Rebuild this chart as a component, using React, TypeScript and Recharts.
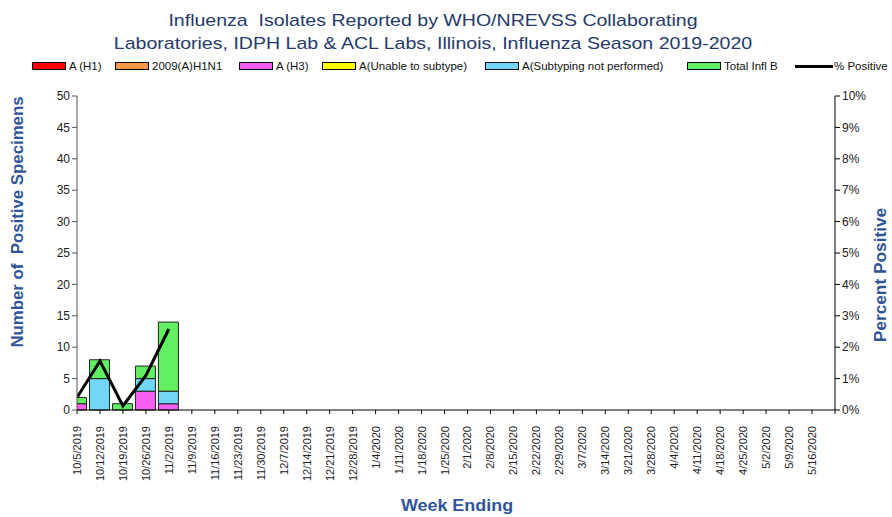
import { ComposedChart, Bar, Line, XAxis, YAxis } from 'recharts';

const weeks = [
  '10/5/2019', '10/12/2019', '10/19/2019', '10/26/2019', '11/2/2019', '11/9/2019', '11/16/2019',
  '11/23/2019', '11/30/2019', '12/7/2019', '12/14/2019', '12/21/2019', '12/28/2019', '1/4/2020',
  '1/11/2020', '1/18/2020', '1/25/2020', '2/1/2020', '2/8/2020', '2/15/2020', '2/22/2020',
  '2/29/2020', '3/7/2020', '3/14/2020', '3/21/2020', '3/28/2020', '4/4/2020', '4/11/2020',
  '4/18/2020', '4/25/2020', '5/2/2020', '5/9/2020', '5/16/2020',
];

const h1 = [0, 0, 0, 0, 0];
const h1n1 = [0, 0, 0, 0, 0];
const h3 = [1, 0, 0, 3, 1];
const unable = [0, 0, 0, 0, 0];
const notPerformed = [0, 5, 0, 2, 2];
const inflB = [1, 3, 1, 2, 11];
const pctPositive = [0.4, 1.56, 0.13, 1.1, 2.58];

const series = [
  { key: 'h1', name: 'A (H1)', color: '#ff0000', values: h1 },
  { key: 'h1n1', name: '2009(A)H1N1', color: '#f79646', values: h1n1 },
  { key: 'h3', name: 'A (H3)', color: '#f65ff2', values: h3 },
  { key: 'unable', name: 'A(Unable to subtype)', color: '#ffff00', values: unable },
  { key: 'notPerformed', name: 'A(Subtyping not performed)', color: '#72d7f7', values: notPerformed },
  { key: 'inflB', name: 'Total Infl B', color: '#62f062', values: inflB },
];

const leftTicks = [0, 5, 10, 15, 20, 25, 30, 35, 40, 45, 50];
const rightTicks = [0, 1, 2, 3, 4, 5, 6, 7, 8, 9, 10];

const data = weeks.map((week, i) => {
  const row: Record<string, number | string | null> = { idx: i, week };
  series.forEach((s) => {
    row[s.key] = s.values[i] ?? 0;
  });
  row.pct = pctPositive[i] ?? null;
  return row;
});

const xTicks = [...weeks.map((_, i) => i), weeks.length];

const font = "'Liberation Sans', Arial, sans-serif";
const blue = '#2f5597';

function WeekTick(props: any) {
  const { x, y, payload } = props;
  const label = weeks[payload.value] ?? '';
  const ty = y + 10;
  return (
    <text
      x={x}
      y={ty}
      transform={`rotate(-90, ${x}, ${ty})`}
      textAnchor="end"
      dominantBaseline="central"
      fontSize={11}
      fontFamily={font}
      fill="#222"
    >
      {label}
    </text>
  );
}

function LegendRow() {
  const lefts = [32, 115, 239, 322, 485, 687];
  return (
    <div style={{ position: 'absolute', top: 60, left: 0, width: 892, height: 14, fontFamily: font, fontSize: 11.5, color: '#111' }}>
      {series.map((s, i) => (
        <div key={s.key} style={{ position: 'absolute', left: lefts[i], top: 0, display: 'flex', alignItems: 'center', whiteSpace: 'nowrap' }}>
          <div style={{ width: 32, height: 6, background: s.color, border: '1px solid #000', marginRight: 3 }} />
          <span>{s.name}</span>
        </div>
      ))}
      <div style={{ position: 'absolute', left: 795, top: 0, display: 'flex', alignItems: 'center', whiteSpace: 'nowrap' }}>
        <div style={{ width: 38, height: 3, background: '#000', marginRight: 1 }} />
        <span>% Positive</span>
      </div>
    </div>
  );
}

const axisTitle = { position: 'absolute' as const, whiteSpace: 'pre' as const, fontFamily: font, fontWeight: 'bold' as const, fontSize: 16, color: blue };

export default function App() {
  return (
    <div style={{ position: 'absolute', left: 0, top: 0, width: 892, height: 517, overflow: 'hidden', background: '#fff' }}>
      <div style={{ position: 'absolute', top: 9, left: 0, width: 866, textAlign: 'center', fontFamily: font, fontSize: 17, lineHeight: '23px', color: '#253a6b', transform: 'scaleX(1.15)' }}>
        <div>Influenza&nbsp; Isolates Reported by WHO/NREVSS Collaborating</div>
        <div>Laboratories, IDPH Lab &amp; ACL Labs, Illinois, Influenza Season 2019-2020</div>
      </div>
      <LegendRow />
      <ComposedChart
        width={892}
        height={517}
        data={data}
        margin={{ top: 96, right: 12, bottom: 27, left: 27 }}
      >
        <XAxis
          dataKey="idx"
          type="number"
          domain={[0, weeks.length]}
          ticks={xTicks}
          interval={0}
          allowDataOverflow
          height={80}
          tick={<WeekTick />}
          tickSize={4}
          stroke="#000"
          tickLine={{ stroke: '#000' }}
        />
        <YAxis
          yAxisId="left"
          domain={[0, 50]}
          ticks={leftTicks}
          width={50}
          tickSize={5}
          stroke="#555"
          tick={{ fill: '#222', fontSize: 12, fontFamily: font }}
        />
        <YAxis
          yAxisId="right"
          orientation="right"
          domain={[0, 10]}
          ticks={rightTicks}
          width={45}
          tickSize={5}
          stroke="#000"
          tickFormatter={(v: number) => `${v}%`}
          tick={{ fill: '#222', fontSize: 12, fontFamily: font }}
        />
        {series.map((s) => (
          <Bar
            key={s.key}
            yAxisId="left"
            dataKey={s.key}
            name={s.name}
            stackId="a"
            fill={s.color}
            stroke="#222"
            strokeWidth={1}
            barSize={20}
            isAnimationActive={false}
          />
        ))}
        <Line
          yAxisId="right"
          dataKey="pct"
          name="% Positive"
          stroke="#000"
          strokeWidth={3}
          dot={false}
          connectNulls={false}
          isAnimationActive={false}
        />
      </ComposedChart>
      <div style={{ ...axisTitle, left: 18, top: 222, transform: 'translate(-50%, -50%) rotate(-90deg) scaleX(1.05)' }}>
        Number of  Positive Specimens
      </div>
      <div style={{ ...axisTitle, left: 881, top: 275, transform: 'translate(-50%, -50%) rotate(-90deg) scaleX(1.08)' }}>
        Percent Positive
      </div>
      <div style={{ ...axisTitle, left: 457, top: 506, transform: 'translate(-50%, -50%) scaleX(1.12)' }}>
        Week Ending
      </div>
    </div>
  );
}
